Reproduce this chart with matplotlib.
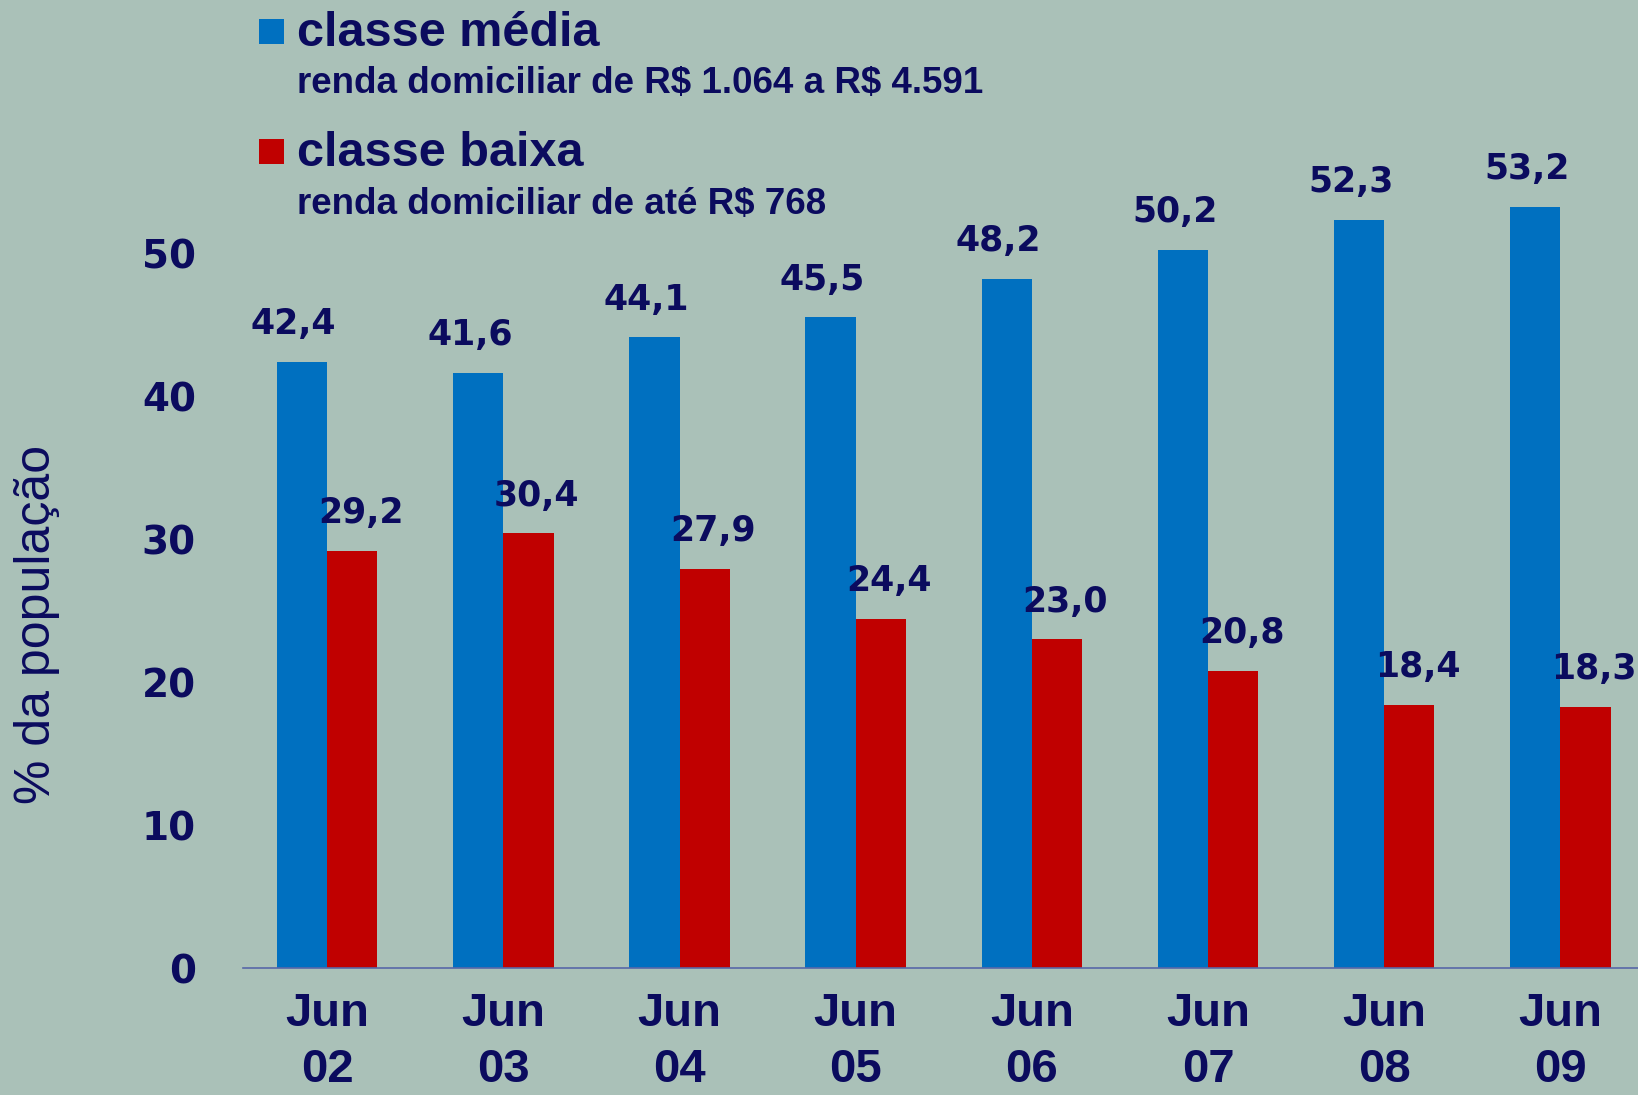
import numpy as np
import matplotlib
matplotlib.use("Agg")
import matplotlib.pyplot as plt
from matplotlib.patches import Rectangle

# data
periods = ["Jun\n02", "Jun\n03", "Jun\n04", "Jun\n05", "Jun\n06", "Jun\n07", "Jun\n08", "Jun\n09"]
classe_media = [42.4, 41.6, 44.1, 45.5, 48.2, 50.2, 52.3, 53.2]
classe_baixa = [29.2, 30.4, 27.9, 24.4, 23.0, 20.8, 18.4, 18.3]
yticks = [0, 10, 20, 30, 40, 50]

navy = "#0b0b5e"
blue = "#0070c0"
red = "#c00000"
bg = "#aac1b8"
narrow = ["Liberation Sans Narrow", "Liberation Sans"]

fig = plt.figure(figsize=(16.38, 10.95), dpi=100, facecolor=bg)
ax = fig.add_axes([0.1484, 0.1156, 0.8516, 0.784])
ax.set_facecolor("none")

x = np.arange(len(periods))
w = 0.285
ax.bar(x - w / 2, classe_media, w, color=blue, zorder=2)
ax.bar(x + w / 2, classe_baixa, w, color=red, zorder=2)

def fmt(v):
    return ("%.1f" % v).replace(".", ",")

for xi, v in zip(x, classe_media):
    ax.annotate(fmt(v), (xi - w / 2, v), xytext=(-6, 15), textcoords="offset points",
                ha="center", va="bottom", fontsize=25, fontweight="bold",
                family="DejaVu Sans", color=navy, annotation_clip=False)
for xi, v in zip(x, classe_baixa):
    ax.annotate(fmt(v), (xi + w / 2, v), xytext=(6, 15), textcoords="offset points",
                ha="center", va="bottom", fontsize=25, fontweight="bold",
                family="DejaVu Sans", color=navy, annotation_clip=False)

ax.set_xlim(-0.477, 7.44)
ax.set_ylim(0, 60)
ax.set_xticks(x)
ax.set_xticklabels(periods, fontsize=34, fontweight="bold", family="Liberation Sans",
                   color=navy, linespacing=1.36)
ax.set_yticks(yticks)
ax.set_yticklabels([str(t) for t in yticks], fontsize=28, fontweight="bold",
                   family="DejaVu Sans", color=navy)
ax.tick_params(axis="both", length=0)
ax.tick_params(axis="x", pad=17)
ax.tick_params(axis="y", pad=34)
for s in ["top", "right", "left"]:
    ax.spines[s].set_visible(False)
ax.spines["bottom"].set_color("#5868a8")
ax.spines["bottom"].set_linewidth(1.2)

# y label
fig.text(0.0225, 0.43, "% da população", rotation=90, ha="center", va="center",
         fontsize=36, family=narrow, color=navy)

# legend block at the top
W, H = 1638, 1095
def px(xp, yp):
    return xp / W, 1 - yp / H

for ytop, col in [(19, blue), (139, red)]:
    x0, y0 = px(259, ytop + 25)
    fig.patches.append(Rectangle((x0, y0), 25 / W, 25 / H, transform=fig.transFigure,
                                 facecolor=col, edgecolor="none"))

fig.text(*px(297, 33), "classe média", ha="left", va="center", fontsize=35,
         fontweight="bold", family=narrow, color=navy)
fig.text(*px(297, 83), "renda domiciliar de R\\$ 1.064 a R\\$ 4.591", ha="left", va="center",
         fontsize=26.5, fontweight="bold", family=narrow, color=navy)
fig.text(*px(297, 154), "classe baixa", ha="left", va="center", fontsize=35,
         fontweight="bold", family=narrow, color=navy)
fig.text(*px(297, 205), "renda domiciliar de até R\\$ 768", ha="left", va="center",
         fontsize=26.5, fontweight="bold", family=narrow, color=navy)

fig.savefig("out.png", dpi=100, facecolor=bg)
